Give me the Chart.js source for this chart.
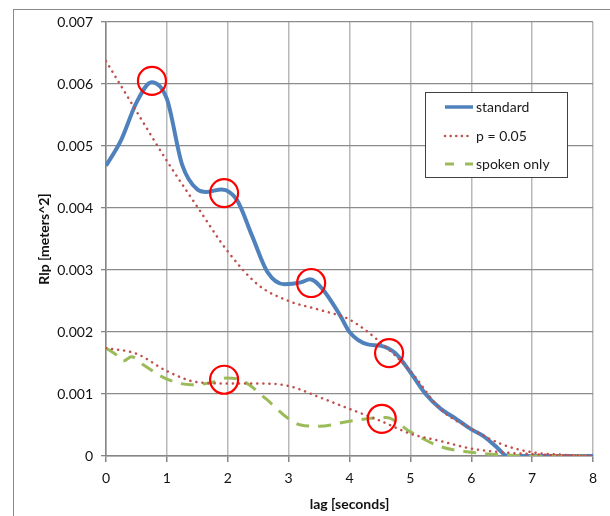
<!DOCTYPE html>
<html>
<head>
<meta charset="utf-8">
<script src="https://cdn.jsdelivr.net/npm/chart.js@4/dist/chart.umd.min.js"></script>
<style>
  html, body { margin: 0; padding: 0; background: #fff; overflow: hidden; }
  canvas { display: block; }
</style>
</head>
<body>
<canvas id="lagChart" width="610" height="516"></canvas>
<script>
"use strict";

// standard
const stdX = [0, 0.25, 0.5, 0.75, 1, 1.25, 1.5, 1.65, 1.9, 2.15, 2.4, 2.65, 2.93, 3.2, 3.35, 3.55, 3.85, 4.0, 4.3, 4.5, 4.75, 5.0, 5.25, 5.5, 5.75, 6.0, 6.2, 6.4, 6.6, 7, 7.5, 8];
const stdY = [0.00468, 0.0051, 0.0057, 0.00603, 0.00576, 0.0047, 0.0043, 0.00426, 0.0043, 0.00413, 0.00355, 0.00297, 0.00277, 0.0028, 0.00285, 0.0027, 0.00226, 0.002, 0.0018, 0.00178, 0.00166, 0.00135, 0.001, 0.00076, 0.0006, 0.00043, 0.00032, 0.00016, 0, 0, 0, 0];

// p = 0.05 (obere und untere Grenze)
const pX = [0, 0.5, 1, 1.5, 2, 2.5, 3, 3.5, 4, 4.5, 5, 5.5, 6, 6.5, 7, 7.5, 8];
const pUpper = [0.00637, 0.00556, 0.00476, 0.00402, 0.0033, 0.00276, 0.0025, 0.00236, 0.0022, 0.00184, 0.00137, 0.00075, 0.00044, 0.00019, 0.00006, 0.00002, 0];
const pLower = [0.00174, 0.00165, 0.00137, 0.00119, 0.00117, 0.00117, 0.00113, 0.00095, 0.00076, 0.00057, 0.00036, 0.00024, 0.00012, 0.00006, 0.00003, 0.00001, 0];

// spoken only
const spokenX = [0, 0.17, 0.28, 0.42, 0.6, 1, 1.4, 1.75, 1.98, 2.25, 2.63, 3.0, 3.2, 3.5, 4, 4.6, 5, 5.5, 6, 6.5, 7, 8];
const spokenY = [0.00174, 0.00163, 0.00153, 0.0016, 0.00148, 0.00124, 0.00115, 0.00119, 0.00126, 0.00121, 0.00092, 0.0006, 0.0005, 0.00048, 0.00056, 0.00062, 0.00039, 0.00015, 0.00006, 0.00002, 0, 0];

// markierte Stellen (rote Kreise)
const circleX = [0.755, 1.94, 3.37, 4.65, 1.94, 4.53];
const circleY = [0.00605, 0.00424, 0.00279, 0.00166, 0.00123, 0.0006];

const legendLabels = ['standard', 'p = 0.05', 'spoken only'];

const blue = '#4f81bd';
const red = '#c0504d';
const green = '#9bbb59';

const pts = (xs, ys) => xs.map((x, i) => ({ x: x, y: ys[i] }));

const frame = {
    id: 'frame',
    beforeDraw(chart) {
        const ctx = chart.ctx;
        ctx.save();
        ctx.strokeStyle = '#8a8a8a';
        ctx.lineWidth = 1;
        ctx.strokeRect(13.5, 9.5, 700, 600);
        ctx.restore();
    }
};

const boxLegend = {
    id: 'boxLegend',
    afterDraw(chart) {
        const ctx = chart.ctx;
        ctx.save();
        ctx.fillStyle = '#fff';
        ctx.fillRect(425, 92, 142, 85);
        ctx.strokeStyle = '#404040';
        ctx.lineWidth = 1;
        ctx.strokeRect(425.5, 92.5, 142, 85);
        const rows = [107, 136, 164];
        const styles = [
            { c: blue, w: 3.5, d: [], cap: 'butt' },
            { c: red, w: 2.5, d: [0.1, 5.5], cap: 'round' },
            { c: green, w: 3, d: [9, 11], cap: 'butt' }
        ];
        rows.forEach((y, i) => {
            const s = styles[i];
            ctx.beginPath();
            ctx.strokeStyle = s.c;
            ctx.lineWidth = s.w;
            ctx.lineCap = s.cap;
            ctx.setLineDash(s.d);
            ctx.moveTo(445, y);
            ctx.lineTo(473, y);
            ctx.stroke();
        });
        ctx.setLineDash([]);
        ctx.fillStyle = '#1a1a1a';
        ctx.font = '14px Lato';
        ctx.textBaseline = 'middle';
        legendLabels.forEach((t, i) => ctx.fillText(t, 476, rows[i]));
        ctx.restore();
    }
};

new Chart(document.getElementById('lagChart'), {
    type: 'line',
    data: {
        datasets: [
            {
                label: 'circles',
                data: pts(circleX, circleY),
                showLine: false,
                pointRadius: 14,
                pointBorderWidth: 2.2,
                pointBorderColor: '#ff0000',
                pointBackgroundColor: 'rgba(0,0,0,0)',
                order: 0
            },
            {
                label: legendLabels[1],
                data: pts(pX, pUpper),
                borderColor: red,
                borderWidth: 2.5,
                borderDash: [0.1, 6],
                borderCapStyle: 'round',
                order: 1
            },
            {
                label: legendLabels[1] + ' lower',
                data: pts(pX, pLower),
                borderColor: red,
                borderWidth: 2.5,
                borderDash: [0.1, 6],
                borderCapStyle: 'round',
                order: 1
            },
            {
                label: legendLabels[2],
                data: pts(spokenX, spokenY),
                borderColor: green,
                borderWidth: 3,
                borderDash: [13, 9],
                order: 2
            },
            {
                label: legendLabels[0],
                data: pts(stdX, stdY),
                borderColor: blue,
                borderWidth: 4,
                order: 3
            }
        ]
    },
    options: {
        responsive: false,
        animation: false,
        layout: { padding: { left: 30, top: 22, right: 17, bottom: 0 } },
        elements: {
            point: { radius: 0, hoverRadius: 0 },
            line: { cubicInterpolationMode: 'monotone', fill: false }
        },
        plugins: {
            legend: { display: false },
            tooltip: { enabled: false }
        },
        scales: {
            x: {
                type: 'linear',
                min: 0,
                max: 8,
                afterFit: s => { s.height = 60; },
                ticks: { stepSize: 1, padding: 8, color: '#111', font: { family: 'Lato', size: 14 } },
                grid: { color: '#b8b8b8', lineWidth: 1.5, tickLength: 6, tickColor: '#868686' },
                border: { color: '#868686', width: 1.5 },
                title: {
                    display: true,
                    text: 'lag [seconds]',
                    color: '#111',
                    font: { family: 'Lato', size: 14, weight: 'bold' },
                    padding: { top: 4, bottom: 3 }
                }
            },
            y: {
                min: 0,
                max: 0.007,
                afterFit: s => { s.width = 76; },
                ticks: {
                    stepSize: 0.001,
                    padding: 8,
                    color: '#111',
                    font: { family: 'Lato', size: 14 },
                    callback: v => v === 0 ? '0' : v.toFixed(3)
                },
                grid: { color: '#8c8c8c', lineWidth: 1.3, tickLength: 5, tickColor: '#868686' },
                border: { color: '#868686', width: 1.5 },
                title: {
                    display: true,
                    text: 'Rlp [meters^2]',
                    color: '#111',
                    font: { family: 'Lato', size: 14, weight: 'bold' },
                    padding: { top: 6, bottom: 0 }
                }
            }
        }
    },
    plugins: [frame, boxLegend]
});
</script>
</body>
</html>
